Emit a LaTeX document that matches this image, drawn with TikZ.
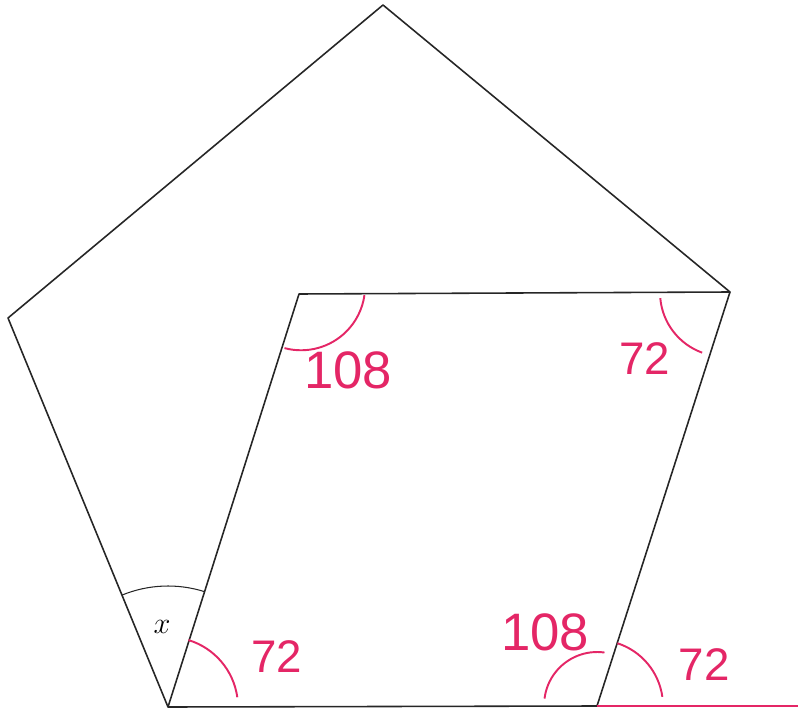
\documentclass[tikz,border=0pt]{standalone}
\usepackage{fontspec}
\newfontfamily\handfont{Liberation Sans}
\begin{document}
\begin{tikzpicture}[x=.02cm,y=.02cm,line join=round,
  edge/.style={black!85,line width=.9pt},
  pen/.style={draw=markpink,line width=1.1pt},
  tag/.style={text=markpink,inner sep=0pt,font=\handfont\fontsize{#1}{#1}\selectfont},
  tag/.default=26]
\definecolor{markpink}{RGB}{228,38,102}
\useasboundingbox (0,0) rectangle (798,711);
% pentagon corners
\coordinate (T) at (383,706);
\coordinate (R) at (730,419);
\coordinate (Q) at (597,5);
\coordinate (P) at (168,4);
\coordinate (L) at (8,393);
% parallelogram corner and extended base
\coordinate (S) at (299,417);
\coordinate (E) at (798,5);
\draw[edge] (T)--(R)--(Q)--(P)--(L)--cycle;
\draw[edge] (P)--(S)--(R);
\draw[pen] (Q)--(E);
% angle x
\draw[edge,line width=.6pt] ([shift={(72.4:121)}]P) arc[start angle=72.4,end angle=112.4,radius=121];
\node (x) at (162,84) {\LARGE$x$};
% marked angles
\draw[pen] ([shift={(8:70)}]P) arc[start angle=8,end angle=73,radius=70];
\node[tag] (p72) at (277,54) {72};
\draw[pen] ([shift={(255:56)}]S) arc[start angle=255,end angle=352,radius=64];
\node[tag=30] (s108) at (348,341) {108};
\draw[pen] ([shift={(185:70)}]R) arc[start angle=185,end angle=250,radius=64];
\node[tag] (r72) at (645,352) {72};
\draw[pen] ([shift={(82:54)}]Q) arc[start angle=82,end angle=173,radius=53];
\node[tag=30] (q108) at (545,79) {108};
\draw[pen] ([shift={(72:66)}]Q) arc[start angle=72,end angle=8,radius=66];
\node[tag] (q72) at (704,46) {72};
\end{tikzpicture}
\end{document}
